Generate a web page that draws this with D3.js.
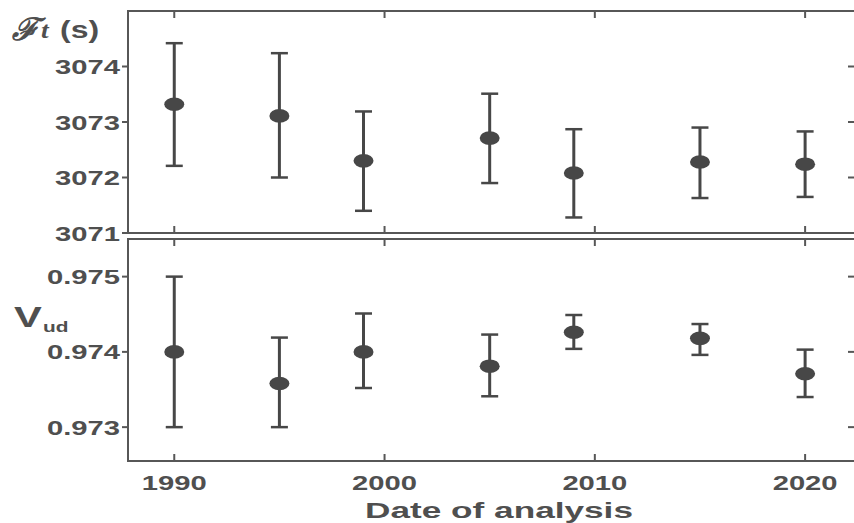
<!DOCTYPE html>
<html>
<head>
<meta charset="utf-8">
<script src="https://cdn.jsdelivr.net/npm/d3@7"></script>
<style>
  html, body { margin: 0; padding: 0; background: #fff; }
  svg { display: block; }
</style>
</head>
<body>
<svg id="chart" width="854" height="523"></svg>
<script>
// ---- data ----
const years = [1990, 1995, 1999, 2005, 2009, 2015, 2020];
const ftValues = [3073.32, 3073.11, 3072.30, 3072.71, 3072.08, 3072.28, 3072.24];
const ftUpper  = [3074.42, 3074.24, 3073.19, 3073.51, 3072.87, 3072.90, 3072.83];
const ftLower  = [3072.21, 3072.00, 3071.40, 3071.90, 3071.28, 3071.63, 3071.65];
const vudValues = [0.97400, 0.97358, 0.97400, 0.97381, 0.97426, 0.97418, 0.97371];
const vudUpper  = [0.97500, 0.97419, 0.97451, 0.97423, 0.97449, 0.97437, 0.97403];
const vudLower  = [0.97300, 0.97300, 0.97352, 0.97341, 0.97404, 0.97396, 0.97340];
const xTicks = [1990, 2000, 2010, 2020];
const ftTicks = [3071, 3072, 3073, 3074];
const vudTicks = [0.973, 0.974, 0.975];
const xLabel = "Date of analysis";

// ---- layout ----
const SX = 1.39; // horizontal stretch of the original picture
const left = 128, right = 856;
const topPanel = {y0: 11, y1: 233};
const botPanel = {y0: 239, y1: 461};
const axisColor = "#575757";
const markColor = "#474747";
const textColor = "#4f4f4f";
const font = "'Liberation Sans', Arial, sans-serif";

const svg = d3.select("#chart");

const x = d3.scaleLinear().domain([1987.8, 2022.42]).range([left, right]);
const yFt = d3.scaleLinear().domain([3071, 3075]).range([topPanel.y1, topPanel.y0]);
const yV = d3.scaleLinear().domain([0.97255, 0.9755]).range([botPanel.y1, botPanel.y0]);

function stretchedText(g, tx, ty, txt, size, anchor, weight, sx) {
  return g.append("text")
    .attr("transform", `translate(${tx},${ty}) scale(${sx || SX},1)`)
    .attr("text-anchor", anchor || "start")
    .attr("font-family", font)
    .attr("font-weight", weight || "bold")
    .attr("font-size", size)
    .attr("fill", textColor)
    .text(txt);
}

function panel(p, y, yticks, fmt, vals, up, lo) {
  const g = svg.append("g");
  g.append("rect")
    .attr("x", left).attr("y", p.y0)
    .attr("width", right - left).attr("height", p.y1 - p.y0)
    .attr("fill", "none").attr("stroke", axisColor).attr("stroke-width", 2);
  xTicks.forEach(t => {
    g.append("line").attr("x1", x(t)).attr("x2", x(t))
      .attr("y1", p.y0).attr("y2", p.y0 + 7)
      .attr("stroke", axisColor).attr("stroke-width", 2);
    g.append("line").attr("x1", x(t)).attr("x2", x(t))
      .attr("y1", p.y1).attr("y2", p.y1 - 7)
      .attr("stroke", axisColor).attr("stroke-width", 2);
  });
  yticks.forEach(t => {
    g.append("line").attr("x1", left - 6).attr("x2", left)
      .attr("y1", y(t)).attr("y2", y(t))
      .attr("stroke", axisColor).attr("stroke-width", 2);
    g.append("line").attr("x1", right).attr("x2", right - 8)
      .attr("y1", y(t)).attr("y2", y(t))
      .attr("stroke", axisColor).attr("stroke-width", 2);
    stretchedText(g, left - 8, y(t) + 7.5, fmt(t), 21, "end");
  });
  years.forEach((yr, i) => {
    const cx = x(yr);
    g.append("line").attr("x1", cx).attr("x2", cx)
      .attr("y1", y(up[i])).attr("y2", y(lo[i]))
      .attr("stroke", markColor).attr("stroke-width", 3);
    [up[i], lo[i]].forEach(v => {
      g.append("line").attr("x1", cx - 8.5).attr("x2", cx + 8.5)
        .attr("y1", y(v)).attr("y2", y(v))
        .attr("stroke", markColor).attr("stroke-width", 2.5);
    });
    g.append("ellipse").attr("cx", cx).attr("cy", y(vals[i]))
      .attr("rx", 10).attr("ry", 6.8).attr("fill", markColor);
  });
  return g;
}

panel(topPanel, yFt, ftTicks, d => d3.format("d")(d), ftValues, ftUpper, ftLower);
panel(botPanel, yV, vudTicks, d => d3.format(".3f")(d), vudValues, vudUpper, vudLower);

// x tick labels
const gl = svg.append("g");
xTicks.forEach(t => stretchedText(gl, x(t), 490, String(t), 21, "middle"));
stretchedText(gl, 499, 518, xLabel, 22, "middle", "bold", 1.6);

// Ft (s)
gl.append("text")
  .attr("transform", `translate(12,40) scale(1.05,1)`)
  .attr("font-family", "'DejaVu Serif', serif")
  .attr("font-style", "italic")
  .attr("font-size", 31)
  .attr("fill", textColor)
  .attr("stroke", textColor)
  .attr("stroke-width", 1)
  .text("\u2131");
gl.append("text")
  .attr("transform", `translate(41,38) scale(1.2,1)`)
  .attr("font-family", "'Liberation Serif', 'DejaVu Serif', serif")
  .attr("font-style", "italic")
  .attr("font-weight", "bold")
  .attr("font-size", 23)
  .attr("fill", textColor)
  .text("t");
stretchedText(gl, 60, 38, "(s)", 23, "start");
// V_ud
stretchedText(gl, 14, 327, "V", 30, "start");
stretchedText(gl, 43, 332, "ud", 15, "start");
</script>
</body>
</html>
